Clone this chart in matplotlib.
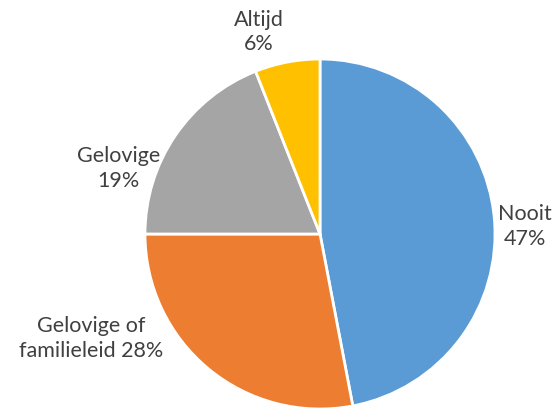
import matplotlib
matplotlib.use('Agg')
import matplotlib.pyplot as plt

labels = ['Nooit', 'Gelovige of\nfamilieleid', 'Gelovige', 'Altijd']
values = [47, 28, 19, 6]
colors = ['#5B9BD5', '#ED7D31', '#A5A5A5', '#FFC000']

# label positions in pie radius units (layout only)
label_pos = [(1.17, 0.05), (-1.31, -0.59), (-1.15, 0.38), (-0.35, 1.16)]

plt.rcParams['font.family'] = ['Lato', 'DejaVu Sans']

fig = plt.figure(figsize=(5.56, 4.10), dpi=100)
ax = fig.add_axes([0, 0, 1, 1])

wedges, _ = ax.pie(values, colors=colors, startangle=90, counterclock=False,
                   radius=1.0, wedgeprops=dict(edgecolor='white', linewidth=2))

for lab, v, (x, y) in zip(labels, values, label_pos):
    if '\n' in lab:
        txt = lab + ' %d%%' % v
    else:
        txt = lab + '\n%d%%' % v
    ax.text(x, y, txt, ha='center', va='center', fontsize=15.5,
            color='#404040', linespacing=1.3)

ax.set_xlim(-320 / 175, (556 - 320) / 175)
ax.set_ylim(-(410 - 235) / 175, 235 / 175)
ax.axis('off')

plt.savefig('out.png', dpi=100)
